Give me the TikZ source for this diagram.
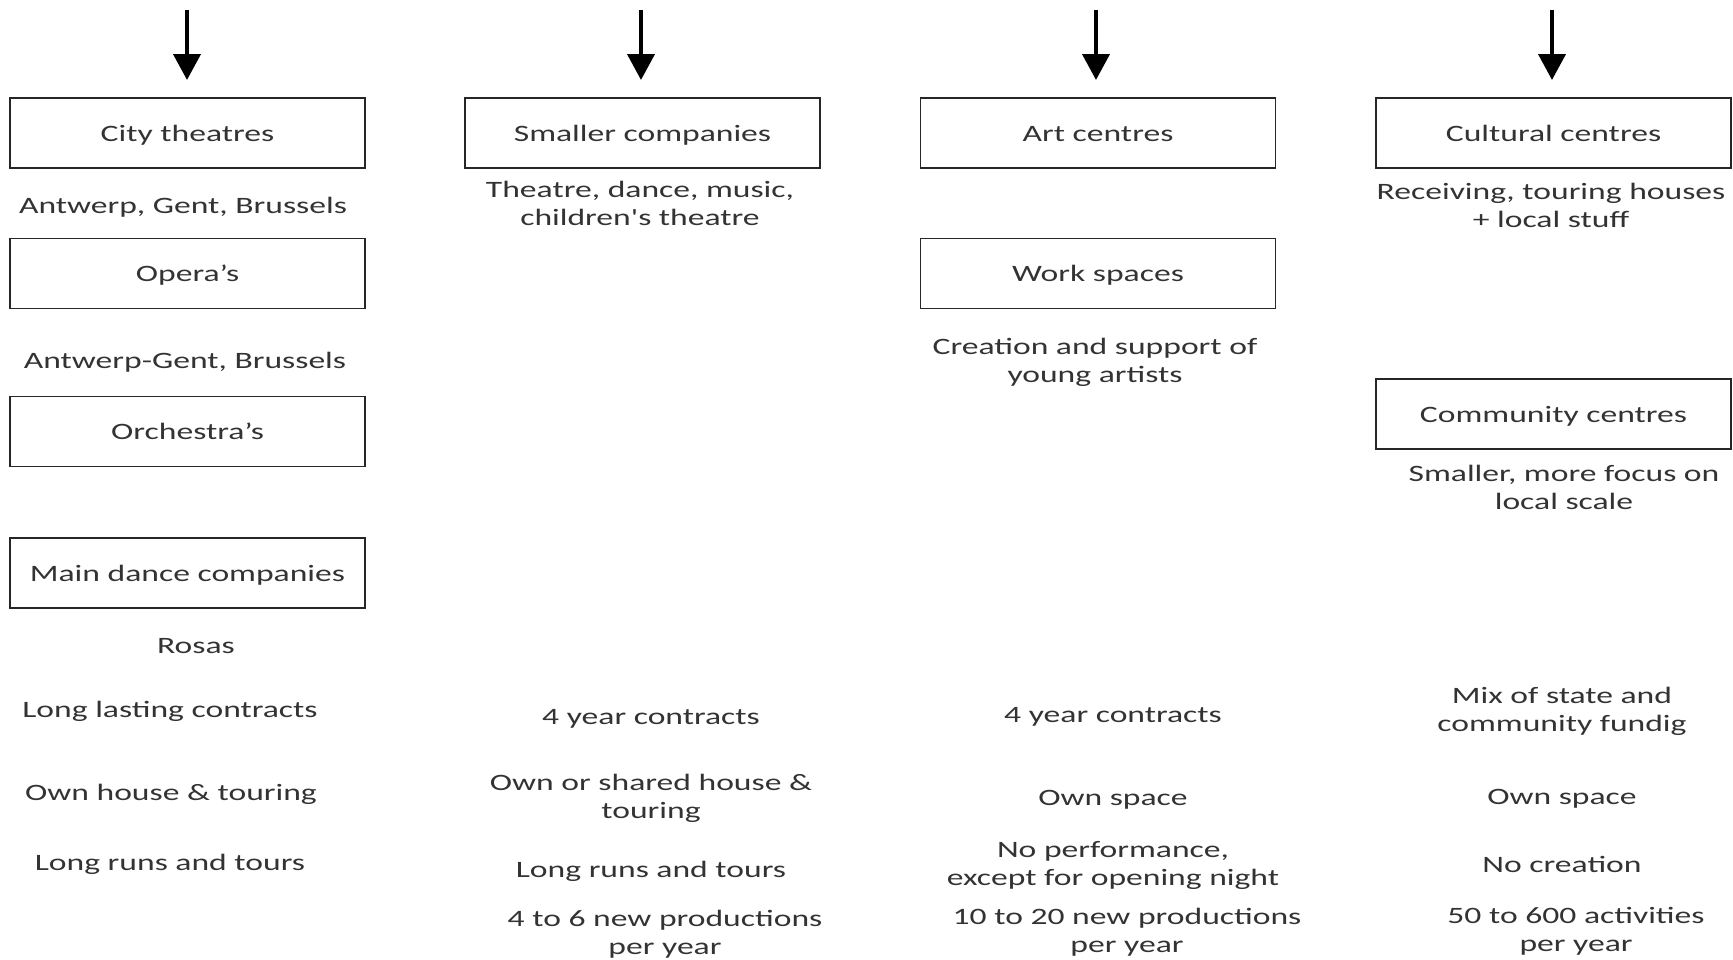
\documentclass[tikz,border=0pt]{standalone}
\usepackage{fontspec}
\usetikzlibrary{arrows.meta}
\newfontfamily\boxfont{Carlito}[FakeStretch=1.43]
\definecolor{txt}{HTML}{333333}
\begin{document}
\begin{tikzpicture}[x=1pt,y=-1pt,
  label text/.style={font=\boxfont\fontsize{23.5}{28}\selectfont, text=txt, align=center, inner sep=0pt},
  oneline/.style={label text, text height=16pt, text depth=0pt},
  twoline/.style={label text},
  catbox/.style={oneline, draw=black!85, line width=1.6pt, minimum width=355pt, minimum height=70pt},
  downarrow/.style={line width=4pt, -{Triangle[width=27pt,length=26pt]}}]
\useasboundingbox (0,0) rectangle (1733,959);

% column headers: arrows
\foreach \c/\x in {a/187,b/641,c/1096,d/1552}{
  \coordinate (\c top) at (\x,10);
  \coordinate (\c bot) at (\x,80);
  \draw[downarrow] (\c top) -- (\c bot);
}

% column 1
\node[catbox] (city) at (187.5,133) {City theatres};
\node[oneline] (citytxt) at (183,205) {Antwerp, Gent, Brussels};
\node[catbox] (opera) at (187.5,273.5) {Opera’s};
\node[oneline] (operatxt) at (185,360) {Antwerp-Gent, Brussels};
\node[catbox] (orch) at (187.5,431.5) {Orchestra’s};
\node[catbox] (dance) at (187.5,573) {Main dance companies};
\node[oneline] (rosas) at (196,645) {Rosas};
\node[oneline] (a1) at (170,709) {Long lasting contracts};
\node[oneline] (a2) at (171,792) {Own house \& touring};
\node[oneline] (a3) at (170,862) {Long runs and tours};

% column 2
\node[catbox] (small) at (642.5,133) {Smaller companies};
\node[twoline] (smalltxt) at (640,203) {Theatre, dance, music,\\children's theatre};
\node[oneline] (b1) at (651,716) {4 year contracts};
\node[twoline] (b2) at (651,798) {Own or shared house \&\\touring};
\node[oneline] (b3) at (651,869) {Long runs and tours};
\node[twoline] (b4) at (665,934) {4 to 6 new productions\\per year};

% column 3
\node[catbox] (art) at (1098,133) {Art centres};
\node[catbox] (work) at (1098,273.5) {Work spaces};
\node[twoline] (worktxt) at (1095,362) {Creation and support of\\young artists};
\node[oneline] (c1) at (1113,714) {4 year contracts};
\node[oneline] (c2) at (1113,797) {Own space};
\node[twoline] (c3) at (1113,865) {No performance,\\except for opening night};
\node[twoline] (c4) at (1127,932) {10 to 20 new productions\\per year};

% column 4
\node[catbox] (cult) at (1553.5,133) {Cultural centres};
\node[twoline] (culttxt) at (1551,205) {Receiving, touring houses\\+ local stuff};
\node[catbox] (comm) at (1553.5,414) {Community centres};
\node[twoline] (commtxt) at (1564,487) {Smaller, more focus on\\local scale};
\node[twoline] (d1) at (1562,711) {Mix of state and\\community fundig};
\node[oneline] (d2) at (1562,796) {Own space};
\node[oneline] (d3) at (1562,864) {No creation};
\node[twoline] (d4) at (1576,931) {50 to 600 activities\\per year};
\end{tikzpicture}
\end{document}
